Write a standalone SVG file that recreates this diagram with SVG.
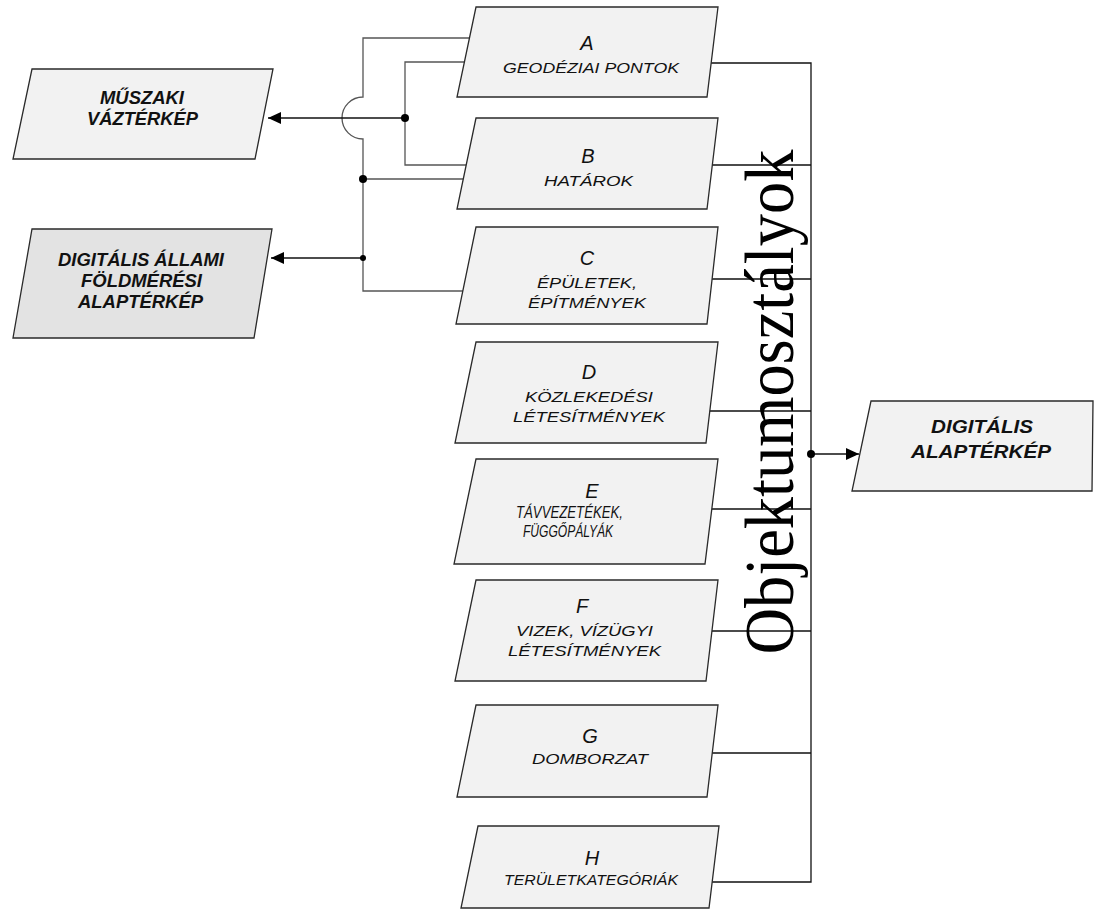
<svg xmlns="http://www.w3.org/2000/svg" width="1094" height="912" viewBox="0 0 1094 912">
<style>
.node{fill:#f2f2f2;stroke:#2a2a2a;stroke-width:1.3}
.dark{fill:#e3e3e3}
.ln{fill:none;stroke:#555;stroke-width:1.3}
.lk{fill:none;stroke:#111;stroke-width:1.3}
.dot{fill:#000}
.let{font-family:"Liberation Sans",Arial,sans-serif;font-style:italic;font-size:20px;fill:#111;text-anchor:middle}
.sub{font-family:"Liberation Sans",Arial,sans-serif;font-style:italic;font-size:15.5px;fill:#111}
.subE{font-family:"Liberation Sans",Arial,sans-serif;font-style:italic;font-size:16px;fill:#111}
.bold{font-family:"Liberation Sans",Arial,sans-serif;font-style:italic;font-weight:bold;font-size:17.5px;fill:#111}
.big{font-family:"Liberation Serif","Times New Roman",serif;font-size:70px;fill:#000;text-anchor:middle}
</style>
<defs>
<marker id="arr" markerUnits="userSpaceOnUse" markerWidth="14" markerHeight="12" refX="13" refY="6" orient="auto">
<path d="M0,0 L13,6 L0,12 Z" fill="#000"/>
</marker>
</defs>
<g id="connectors">
<path class="ln" d="M472,38 H363 V97 A21,21 0 0 0 363,139 V291 H470"/>
<path class="ln" d="M470,62 H405 V165 H470"/>
<path class="ln" d="M363,179 H470"/>
<path class="lk" d="M405,118 H268" marker-end="url(#arr)"/>
<path class="lk" d="M363,258 H271" marker-end="url(#arr)"/>
<path class="lk" d="M700,63 H811 V882 H700"/>
<path class="lk" d="M700,165 H811 M700,279 H811 M700,411 H811 M700,509 H811 M700,631 H811 M700,753 H811"/>
<path class="lk" d="M811,454 H859" marker-end="url(#arr)"/>
<circle class="dot" cx="405" cy="118" r="4"/>
<circle class="dot" cx="363" cy="179" r="4"/>
<circle class="dot" cx="363" cy="258" r="3"/>
<circle class="dot" cx="811" cy="454" r="4"/>
</g>
<g id="node-muszaki">
<polygon class="node" points="32,69 273,69 255,159 13,159"/>
<text class="bold" x="100" y="104" textLength="84" lengthAdjust="spacingAndGlyphs">MŰSZAKI</text>
<text class="bold" x="87" y="125" textLength="111" lengthAdjust="spacingAndGlyphs">VÁZTÉRKÉP</text>
</g>
<g id="node-dat">
<polygon class="node dark" points="32,229 272,229 254,338 13,338"/>
<text class="bold" x="58" y="266" textLength="166" lengthAdjust="spacingAndGlyphs">DIGITÁLIS ÁLLAMI</text>
<text class="bold" x="81" y="287" textLength="121" lengthAdjust="spacingAndGlyphs">FÖLDMÉRÉSI</text>
<text class="bold" x="78" y="308" textLength="125" lengthAdjust="spacingAndGlyphs">ALAPTÉRKÉP</text>
</g>
<g id="node-dak">
<polygon class="node" points="871,401 1093,401 1092,491 852,491"/>
<text class="bold" x="931" y="433" textLength="102" lengthAdjust="spacingAndGlyphs">DIGITÁLIS</text>
<text class="bold" x="911" y="458" textLength="140" lengthAdjust="spacingAndGlyphs">ALAPTÉRKÉP</text>
</g>
<g id="node-A">
<polygon class="node" points="476,7 718,7 707,97 457,97"/>
<text class="let" x="587" y="50">A</text>
<text class="sub" x="503" y="73" textLength="176" lengthAdjust="spacingAndGlyphs">GEODÉZIAI PONTOK</text>
</g>
<g id="node-B">
<polygon class="node" points="476,118 718,118 707,209 457,209"/>
<text class="let" x="588" y="163">B</text>
<text class="sub" x="544" y="186" textLength="89" lengthAdjust="spacingAndGlyphs">HATÁROK</text>
</g>
<g id="node-C">
<polygon class="node" points="476,227 718,227 707,324 456,324"/>
<text class="let" x="587" y="265">C</text>
<text class="sub" x="537" y="288" textLength="100" lengthAdjust="spacingAndGlyphs">ÉPÜLETEK,</text>
<text class="sub" x="528" y="308" textLength="118" lengthAdjust="spacingAndGlyphs">ÉPÍTMÉNYEK</text>
</g>
<g id="node-D">
<polygon class="node" points="476,342 718,342 706,443 455,443"/>
<text class="let" x="589" y="379">D</text>
<text class="sub" x="525" y="402" textLength="128" lengthAdjust="spacingAndGlyphs">KÖZLEKEDÉSI</text>
<text class="sub" x="513" y="422" textLength="152" lengthAdjust="spacingAndGlyphs">LÉTESÍTMÉNYEK</text>
</g>
<g id="node-E">
<polygon class="node" points="476,459 718,459 705,564 454,564"/>
<text class="let" x="592" y="498">E</text>
<text class="subE" x="516" y="518" textLength="107" lengthAdjust="spacingAndGlyphs">TÁVVEZETÉKEK,</text>
<text class="subE" x="523" y="537" textLength="90" lengthAdjust="spacingAndGlyphs">FÜGGŐPÁLYÁK</text>
</g>
<g id="node-F">
<polygon class="node" points="476,580 718,580 706,681 455,681"/>
<text class="let" x="582" y="613">F</text>
<text class="sub" x="516" y="636" textLength="137" lengthAdjust="spacingAndGlyphs">VIZEK, VÍZÜGYI</text>
<text class="sub" x="508" y="656" textLength="153" lengthAdjust="spacingAndGlyphs">LÉTESÍTMÉNYEK</text>
</g>
<g id="node-G">
<polygon class="node" points="476,705 718,705 707,797 457,797"/>
<text class="let" x="590" y="743">G</text>
<text class="sub" x="532" y="764" textLength="116" lengthAdjust="spacingAndGlyphs">DOMBORZAT</text>
</g>
<g id="node-H">
<polygon class="node" points="478,826 719,826 709,908 461,908"/>
<text class="let" x="592" y="865">H</text>
<text class="sub" x="504" y="885" textLength="174" lengthAdjust="spacingAndGlyphs">TERÜLETKATEGÓRIÁK</text>
</g>
<text class="big" transform="translate(793,402) rotate(-90)" textLength="505" lengthAdjust="spacingAndGlyphs">Objektumosztályok</text>
</svg>
